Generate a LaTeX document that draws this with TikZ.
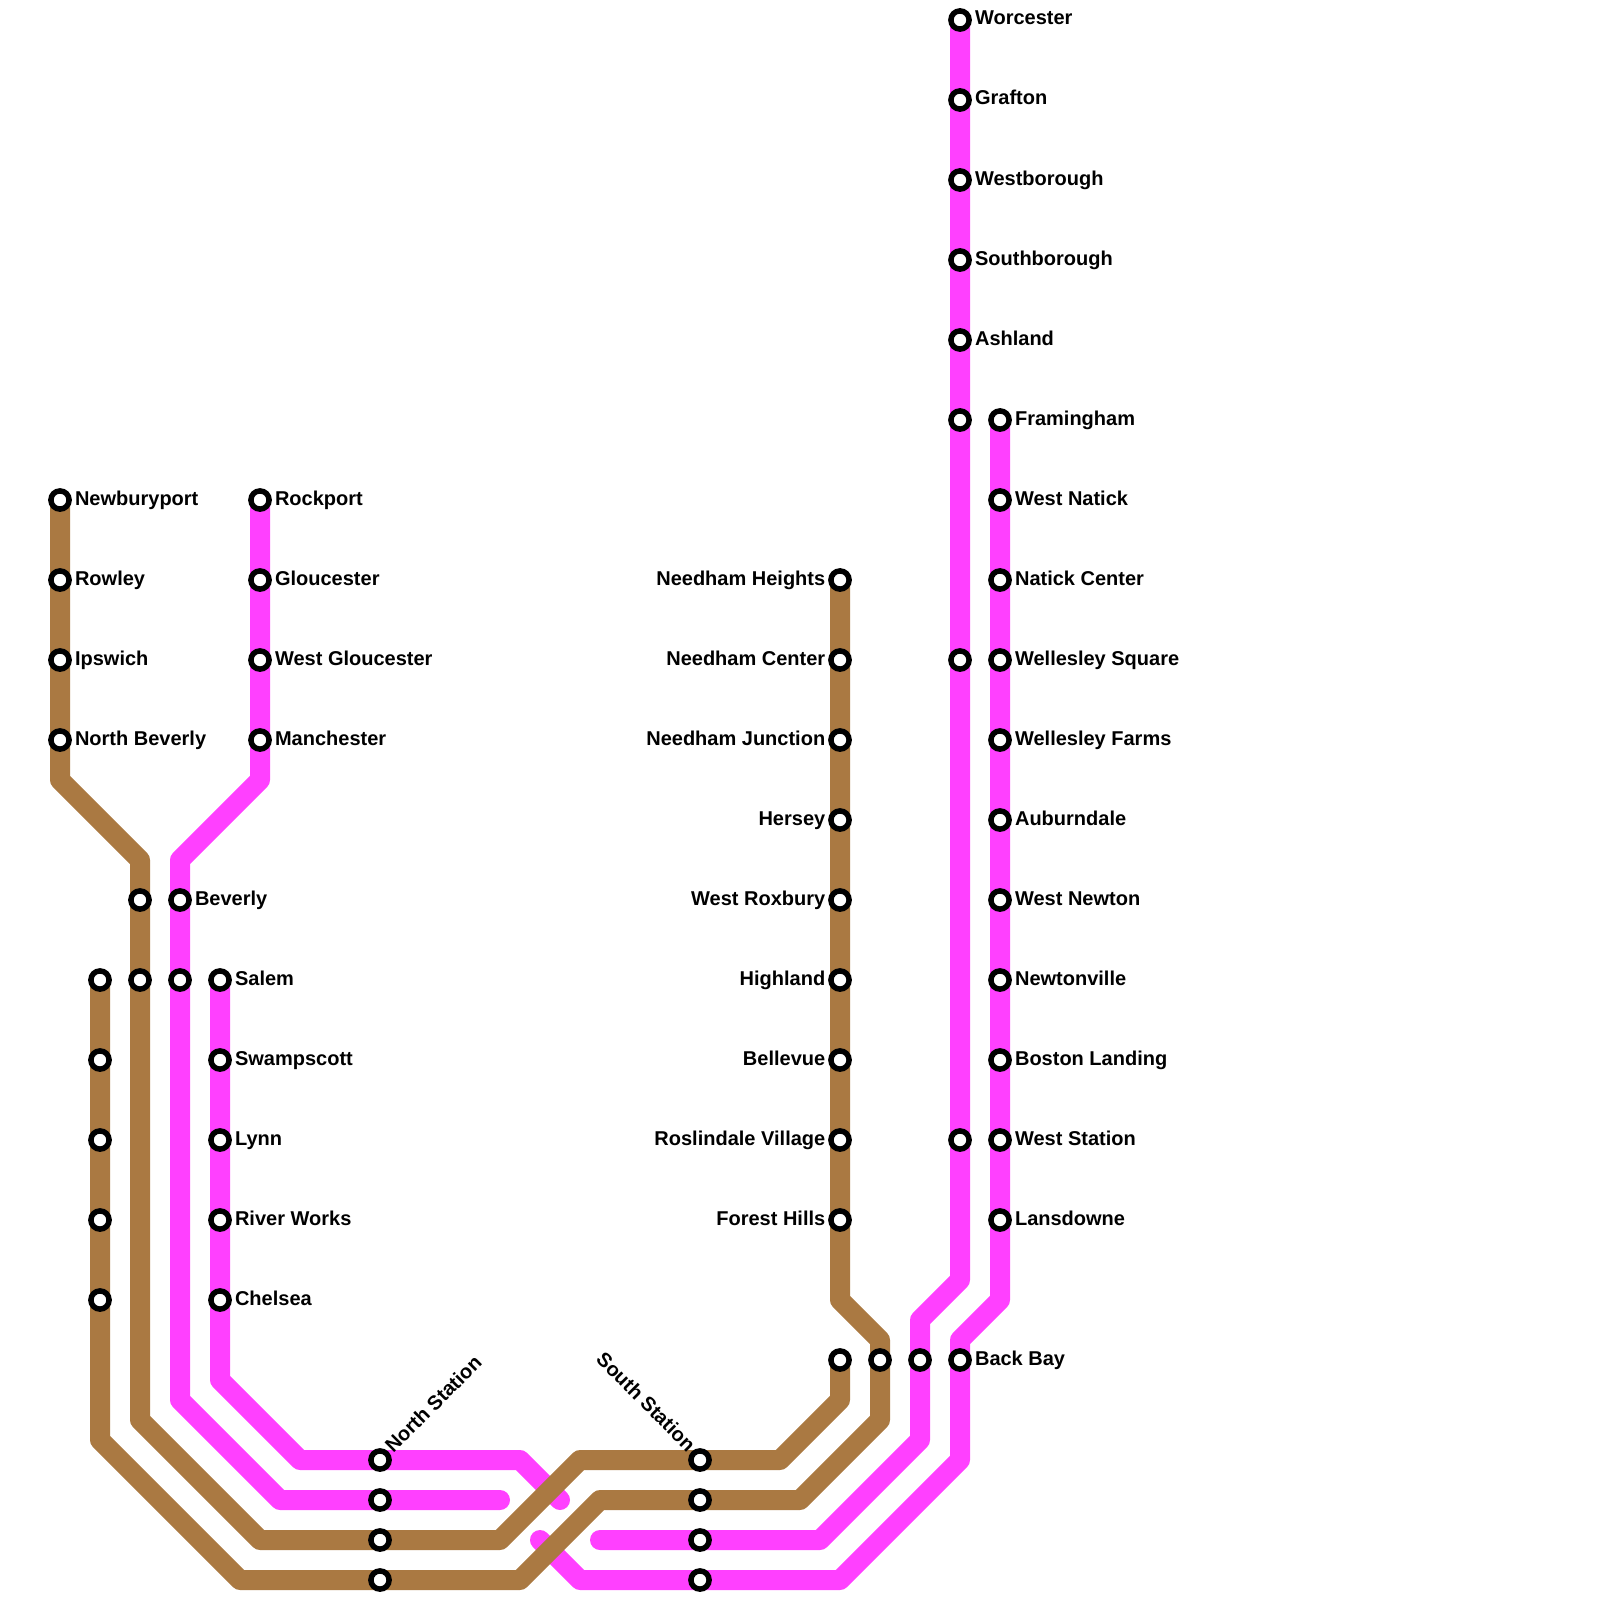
\documentclass[tikz,border=0pt]{standalone}
\usepackage{fontspec}
\setmainfont{Liberation Sans}
\usetikzlibrary{positioning,backgrounds}
\definecolor{linebrown}{HTML}{AA7942}
\definecolor{linepink}{HTML}{FF40FF}

\begin{document}
\begin{tikzpicture}[
      x=1pt, y=-1pt,
      every node/.style={font=\fontsize{20}{24}\selectfont\bfseries},
      stn/.style={draw=black, fill=white, circle, line width=5.5pt, minimum size=18.2pt, inner sep=0pt},
      lbl/.style={inner sep=0pt, text height=14pt, text depth=4pt},
      brownline/.style={draw=linebrown, line width=20pt, line cap=round, line join=round},
      pinkline/.style={draw=linepink, line width=20pt, line cap=round, line join=round},
    ]
    \useasboundingbox (0,0) rectangle (1600,1600);

    % Newburyport branch
    \node[stn] (newburyport) at (60,500) {};
    \node[stn] (rowley) at (60,580) {};
    \node[stn] (ipswich) at (60,660) {};
    \node[stn] (northbeverly) at (60,740) {};
    \node[lbl, right=3pt of newburyport] (newburyportlbl) {Newburyport};
    \node[lbl, right=3pt of rowley] (rowleylbl) {Rowley};
    \node[lbl, right=3pt of ipswich] (ipswichlbl) {Ipswich};
    \node[lbl, right=3pt of northbeverly] (northbeverlylbl) {North Beverly};

    % Rockport branch
    \node[stn] (rockport) at (260,500) {};
    \node[stn] (gloucester) at (260,580) {};
    \node[stn] (westgloucester) at (260,660) {};
    \node[stn] (manchester) at (260,740) {};
    \node[lbl, right=3pt of rockport] (rockportlbl) {Rockport};
    \node[lbl, right=3pt of gloucester] (gloucesterlbl) {Gloucester};
    \node[lbl, right=3pt of westgloucester] (westgloucesterlbl) {West Gloucester};
    \node[lbl, right=3pt of manchester] (manchesterlbl) {Manchester};

    % Beverly and the unnamed stops beside it
    \node[stn] (beverlya) at (140,900) {};
    \node[stn] (salema) at (140,980) {};
    \node[stn] (beverly) at (180,900) {};
    \node[stn] (salemb) at (180,980) {};
    \node[lbl, right=3pt of beverly] (beverlylbl) {Beverly};

    % Unnamed stops on the outer brown line
    \node[stn] (salemc) at (100,980) {};
    \node[stn] (swampscotta) at (100,1060) {};
    \node[stn] (lynna) at (100,1140) {};
    \node[stn] (riverworksa) at (100,1220) {};
    \node[stn] (chelseaa) at (100,1300) {};

    % Salem group
    \node[stn] (salem) at (220,980) {};
    \node[stn] (swampscott) at (220,1060) {};
    \node[stn] (lynn) at (220,1140) {};
    \node[stn] (riverworks) at (220,1220) {};
    \node[stn] (chelsea) at (220,1300) {};
    \node[lbl, right=3pt of salem] (salemlbl) {Salem};
    \node[lbl, right=3pt of swampscott] (swampscottlbl) {Swampscott};
    \node[lbl, right=3pt of lynn] (lynnlbl) {Lynn};
    \node[lbl, right=3pt of riverworks] (riverworkslbl) {River Works};
    \node[lbl, right=3pt of chelsea] (chelsealbl) {Chelsea};

    % North Station platforms
    \node[stn] (northa) at (380,1460) {};
    \node[stn] (northb) at (380,1500) {};
    \node[stn] (northc) at (380,1540) {};
    \node[stn] (northd) at (380,1580) {};
    \node[lbl, rotate=45, anchor=west] (northlbl) at (389.8,1450.3) {North Station};

    % South Station platforms
    \node[stn] (southa) at (700,1460) {};
    \node[stn] (southb) at (700,1500) {};
    \node[stn] (southc) at (700,1540) {};
    \node[stn] (southd) at (700,1580) {};
    \node[lbl, rotate=-45, anchor=east] (southlbl) at (690.7,1449.3) {South Station};

    % Needham branch
    \node[stn] (needhamheights) at (840,580) {};
    \node[stn] (needhamcenter) at (840,660) {};
    \node[stn] (needhamjunction) at (840,740) {};
    \node[stn] (hersey) at (840,820) {};
    \node[stn] (westroxbury) at (840,900) {};
    \node[stn] (highland) at (840,980) {};
    \node[stn] (bellevue) at (840,1060) {};
    \node[stn] (roslindale) at (840,1140) {};
    \node[stn] (foresthills) at (840,1220) {};
    \node[lbl, left=2.7pt of needhamheights] (needhamheightslbl) {Needham Heights};
    \node[lbl, left=2.7pt of needhamcenter] (needhamcenterlbl) {Needham Center};
    \node[lbl, left=2.7pt of needhamjunction] (needhamjunctionlbl) {Needham Junction};
    \node[lbl, left=2.7pt of hersey] (herseylbl) {Hersey};
    \node[lbl, left=2.7pt of westroxbury] (westroxburylbl) {West Roxbury};
    \node[lbl, left=2.7pt of highland] (highlandlbl) {Highland};
    \node[lbl, left=2.7pt of bellevue] (bellevuelbl) {Bellevue};
    \node[lbl, left=2.7pt of roslindale] (roslindalelbl) {Roslindale Village};
    \node[lbl, left=2.7pt of foresthills] (foresthillslbl) {Forest Hills};

    % Back Bay row
    \node[stn] (backbaya) at (840,1360) {};
    \node[stn] (backbayb) at (880,1360) {};
    \node[stn] (backbayc) at (920,1360) {};
    \node[stn] (backbay) at (960,1360) {};
    \node[lbl, right=3pt of backbay] (backbaylbl) {Back Bay};

    % Worcester express line
    \node[stn] (worcester) at (960,20) {};
    \node[stn] (grafton) at (960,100) {};
    \node[stn] (westborough) at (960,180) {};
    \node[stn] (southborough) at (960,260) {};
    \node[stn] (ashland) at (960,340) {};
    \node[stn] (framinghama) at (960,420) {};
    \node[stn] (wellesleya) at (960,660) {};
    \node[stn] (westa) at (960,1140) {};
    \node[lbl, right=3pt of worcester] (worcesterlbl) {Worcester};
    \node[lbl, right=3pt of grafton] (graftonlbl) {Grafton};
    \node[lbl, right=3pt of westborough] (westboroughlbl) {Westborough};
    \node[lbl, right=3pt of southborough] (southboroughlbl) {Southborough};
    \node[lbl, right=3pt of ashland] (ashlandlbl) {Ashland};

    % Framingham local line
    \node[stn] (framingham) at (1000,420) {};
    \node[stn] (westnatick) at (1000,500) {};
    \node[stn] (natickcenter) at (1000,580) {};
    \node[stn] (wellesleysquare) at (1000,660) {};
    \node[stn] (wellesleyfarms) at (1000,740) {};
    \node[stn] (auburndale) at (1000,820) {};
    \node[stn] (westnewton) at (1000,900) {};
    \node[stn] (newtonville) at (1000,980) {};
    \node[stn] (bostonlanding) at (1000,1060) {};
    \node[stn] (weststation) at (1000,1140) {};
    \node[stn] (lansdowne) at (1000,1220) {};
    \node[lbl, right=3pt of framingham] (framinghamlbl) {Framingham};
    \node[lbl, right=3pt of westnatick] (westnaticklbl) {West Natick};
    \node[lbl, right=3pt of natickcenter] (natickcenterlbl) {Natick Center};
    \node[lbl, right=3pt of wellesleysquare] (wellesleysquarelbl) {Wellesley Square};
    \node[lbl, right=3pt of wellesleyfarms] (wellesleyfarmslbl) {Wellesley Farms};
    \node[lbl, right=3pt of auburndale] (auburndalelbl) {Auburndale};
    \node[lbl, right=3pt of westnewton] (westnewtonlbl) {West Newton};
    \node[lbl, right=3pt of newtonville] (newtonvillelbl) {Newtonville};
    \node[lbl, right=3pt of bostonlanding] (bostonlandinglbl) {Boston Landing};
    \node[lbl, right=3pt of weststation] (weststationlbl) {West Station};
    \node[lbl, right=3pt of lansdowne] (lansdownelbl) {Lansdowne};

    % Bends of the lines
    \coordinate (newbA) at (60,780);
    \coordinate (newbB) at (140,860);
    \coordinate (newbC) at (140,1420);
    \coordinate (newbD) at (260,1540);
    \coordinate (newbE) at (500,1540);
    \coordinate (newbF) at (580,1460);
    \coordinate (newbG) at (780,1460);
    \coordinate (newbH) at (840,1400);
    \coordinate (needA) at (840,1300);
    \coordinate (needB) at (880,1340);
    \coordinate (needC) at (880,1420);
    \coordinate (needD) at (800,1500);
    \coordinate (needE) at (600,1500);
    \coordinate (needF) at (520,1580);
    \coordinate (needG) at (240,1580);
    \coordinate (needH) at (100,1440);
    \coordinate (rockA) at (260,780);
    \coordinate (rockB) at (180,860);
    \coordinate (rockC) at (180,1400);
    \coordinate (rockD) at (280,1500);
    \coordinate (rockE) at (500,1500);
    \coordinate (saleA) at (220,1380);
    \coordinate (saleB) at (300,1460);
    \coordinate (saleC) at (520,1460);
    \coordinate (saleD) at (560,1500);
    \coordinate (worcA) at (960,1280);
    \coordinate (worcB) at (920,1320);
    \coordinate (worcC) at (920,1440);
    \coordinate (worcD) at (820,1540);
    \coordinate (worcE) at (600,1540);
    \coordinate (framA) at (1000,1300);
    \coordinate (framB) at (960,1340);
    \coordinate (framC) at (960,1460);
    \coordinate (framD) at (840,1580);
    \coordinate (framE) at (580,1580);
    \coordinate (framF) at (540,1540);

    % Lines, under the stations
    \begin{scope}[on background layer]
      \draw[pinkline] (rockport.center) -- (rockA) -- (rockB) -- (rockC) -- (rockD) -- (rockE);
      \draw[pinkline] (salem.center) -- (saleA) -- (saleB) -- (saleC) -- (saleD);
      \draw[pinkline] (worcester.center) -- (worcA) -- (worcB) -- (worcC) -- (worcD) -- (worcE);
      \draw[pinkline] (framingham.center) -- (framA) -- (framB) -- (framC) -- (framD) -- (framE) -- (framF);
      \draw[brownline] (newburyport.center) -- (newbA) -- (newbB) -- (newbC) -- (newbD) -- (newbE) -- (newbF) -- (newbG) -- (newbH) -- (backbaya.center);
      \draw[brownline] (needhamheights.center) -- (needA) -- (needB) -- (needC) -- (needD) -- (needE) -- (needF) -- (needG) -- (needH) -- (salemc.center);
    \end{scope}
  \end{tikzpicture}
\end{document}
